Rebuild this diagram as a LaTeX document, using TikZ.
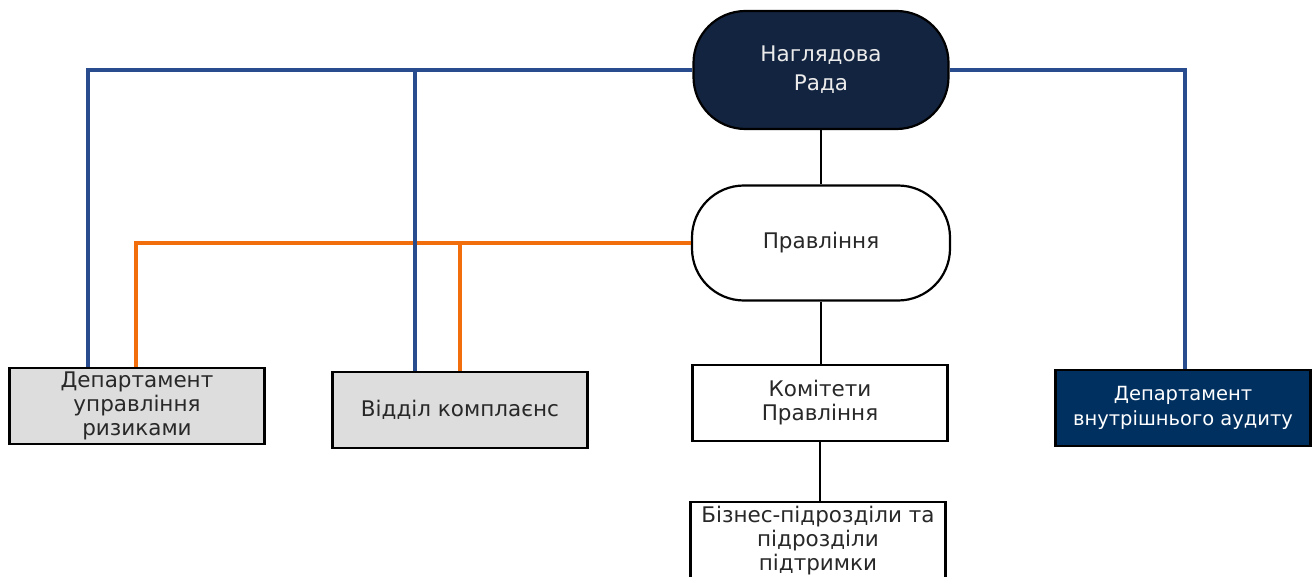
\documentclass[tikz,border=0pt]{standalone}
\usepackage{fontspec}
\setmainfont{DejaVu Sans}
\definecolor{navy}{RGB}{19,36,64}
\definecolor{audit}{RGB}{0,48,96}
\definecolor{linkblue}{RGB}{40,76,142}
\definecolor{linkorange}{RGB}{242,110,12}
\definecolor{boxgrey}{RGB}{221,221,221}
\definecolor{txt}{RGB}{40,40,40}

\begin{document}
\begin{tikzpicture}[x=1pt,y=-1pt,
    unit/.style={draw=black,line width=2.2pt,minimum width=255pt,minimum height=76pt,align=center,text=txt,font=\fontsize{21.5}{24}\selectfont},
    board/.style={unit,rounded corners=52pt,minimum height=118pt},
    blueline/.style={draw=linkblue,line width=3.6pt},
    orangeline/.style={draw=linkorange,line width=3.6pt},
    stem/.style={draw=black,line width=2.2pt}]
    \useasboundingbox (0,0) rectangle (1316,577);
    \coordinate (bl1) at (88,70);
    \coordinate (bl2) at (415,70);
    \coordinate (br) at (1185,70);
    \coordinate (ol1) at (136,243);
    \coordinate (ol2) at (460,243);

    \node[board,fill=navy,text=white!92!black,font=\fontsize{21.5}{29}\selectfont] (rada) at (821,70) {Наглядова\\Рада};
    \node[board,fill=white,minimum width=258pt,minimum height=115pt] (pravl) at (821,243) {Правління};
    \node[unit,fill=boxgrey] (risk) at (137,406) {Департамент\\управління\\ризиками};
    \node[unit,fill=boxgrey] (compl) at (460,410) {Відділ комплаєнс};
    \node[unit,fill=white] (komit) at (820,403) {Комітети\\Правління};
    \node[unit,fill=white,minimum height=78pt] (biz) at (818,541) {Бізнес-підрозділи та\\підрозділи\\підтримки};
    \node[unit,fill=audit,text=white,font=\fontsize{19.5}{25}\selectfont] (audit) at (1183,408) {Департамент\\внутрішнього аудиту};

    % links between the units (orange under blue)
    \draw[orangeline] (pravl.west) -- (ol1) -- (ol1 |- risk.north);
    \draw[orangeline] (ol2) -- (ol2 |- compl.north);
    \draw[blueline] (rada.west) -- (bl1) -- (bl1 |- risk.north);
    \draw[blueline] (bl2) -- (bl2 |- compl.north);
    \draw[blueline] (rada.east) -- (br) -- (br |- audit.north);
    \draw[stem] (rada.south) -- (rada.south |- pravl.north);
    \draw[stem] (pravl.south) -- (pravl.south |- komit.north);
    \draw[stem] (komit.south) -- (komit.south |- biz.north);
\end{tikzpicture}
\end{document}
